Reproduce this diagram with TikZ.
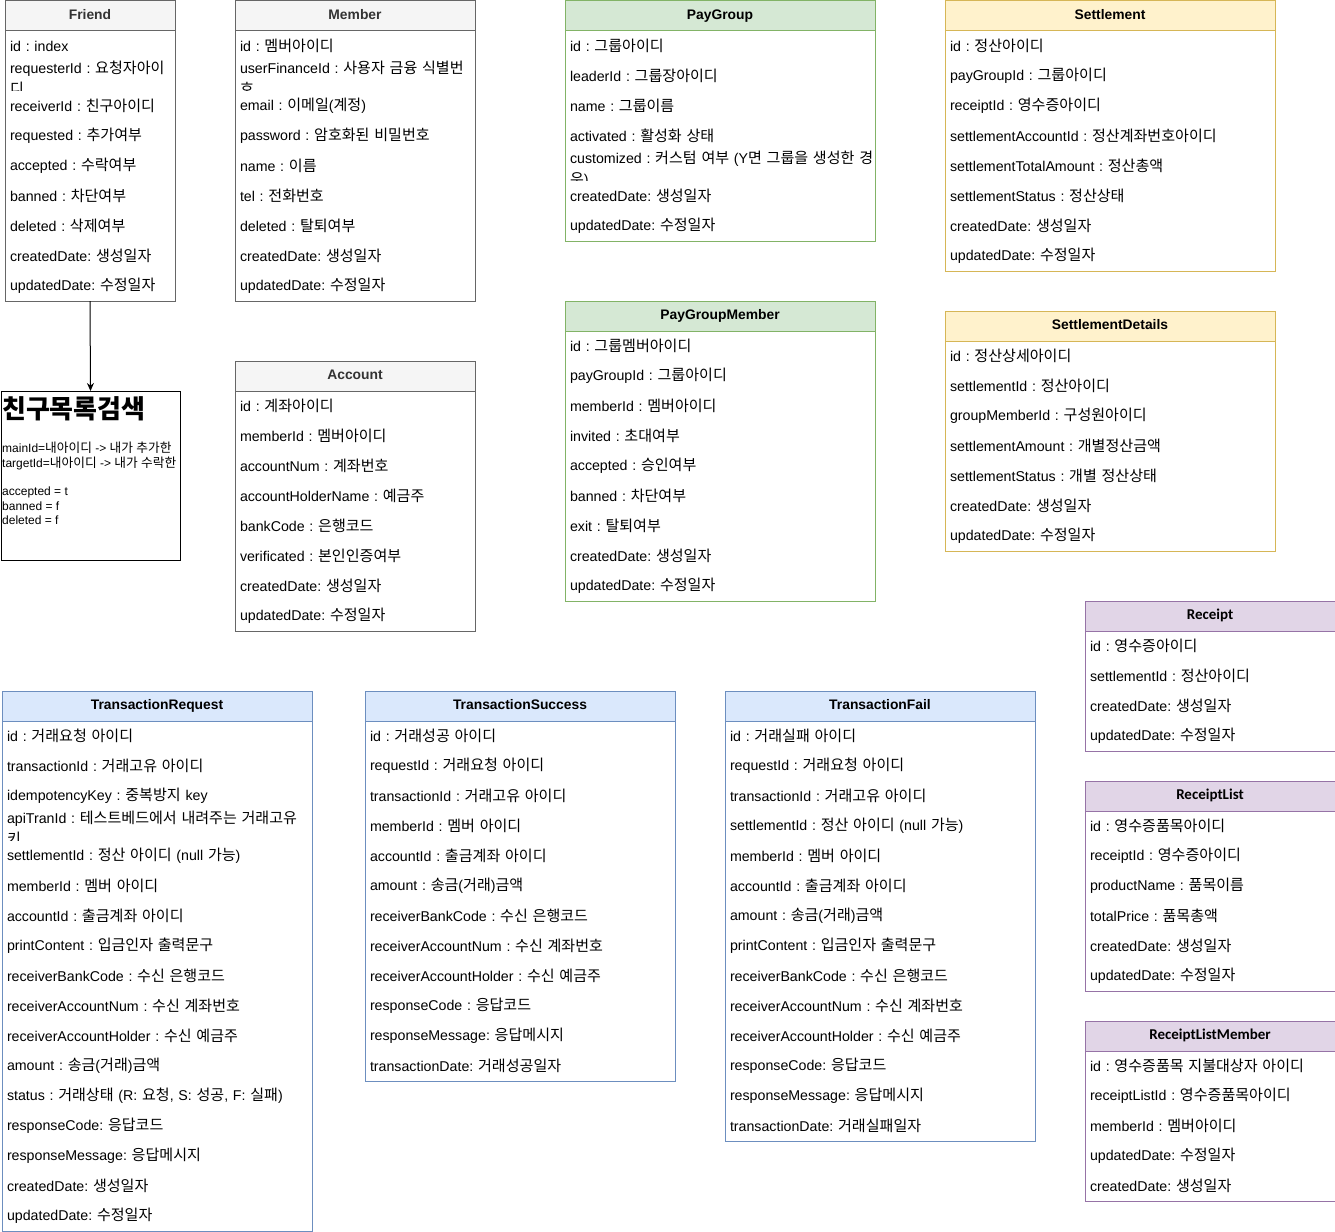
\documentclass[tikz,border=0pt]{standalone}
\usepackage{fontspec}
\setmainfont{Liberation Sans}
\newfontfamily\krfont{Noto Sans CJK KR}[Scale=1.06]
\newfontfamily\carlito{Carlito}
\usetikzlibrary{arrows.meta}
\frenchspacing
% automatic switch to a Korean font for Hangul syllables
\XeTeXinterchartokenstate=1
\newXeTeXintercharclass\krcls
\newcount\krc
\krc="AC00
\loop
  \XeTeXcharclass\krc=\krcls
\ifnum\krc<"D7A3 \advance\krc by 1 \repeat
\XeTeXinterchartoks 0 \krcls={\begingroup\krfont}
\XeTeXinterchartoks 4095 \krcls={\begingroup\krfont}
\XeTeXinterchartoks \krcls 0={\endgroup}
\XeTeXinterchartoks \krcls 4095={\endgroup}

\definecolor{grayfill}{HTML}{F5F5F5}\definecolor{grayline}{HTML}{666666}\definecolor{grayfont}{HTML}{333333}
\definecolor{greenfill}{HTML}{D5E8D4}\definecolor{greenline}{HTML}{82B366}\colorlet{greenfont}{black}
\definecolor{yellowfill}{HTML}{FFF2CC}\definecolor{yellowline}{HTML}{D6B656}\colorlet{yellowfont}{black}
\definecolor{bluefill}{HTML}{DAE8FC}\definecolor{blueline}{HTML}{6C8EBF}\colorlet{bluefont}{black}
\definecolor{purplefill}{HTML}{E1D5E7}\definecolor{purpleline}{HTML}{9673A6}\colorlet{purplefont}{black}

\newcommand\hdrgray{\fontsize{13.85}{16}\selectfont\bfseries}
\newcommand\hdrgreen{\fontsize{13.85}{16}\selectfont\bfseries}
\newcommand\hdryellow{\fontsize{13.85}{16}\selectfont\bfseries}
\newcommand\hdrblue{\fontsize{13.85}{16}\selectfont\bfseries}
\newcommand\hdrpurple{\carlito\fontsize{15}{17}\selectfont\bfseries}
% a row whose text wraps; the second line is mostly hidden by the next row
\newcommand\wrapped[2]{\mbox{#1}\\[5pt]#2}

\tikzset{
  hdr/.style={rectangle, minimum height=30, inner sep=0, outer sep=0, line width=1pt, anchor=north west,
     text height=10, text depth=3},
  rowcell/.style={rectangle, minimum height=30, inner xsep=5, inner ysep=0, outer sep=0, fill=white,
     align=left, anchor=north west, font=\fontsize{14.2}{16}\selectfont},
  frame/.style={line width=1pt},
  notebox/.style={rectangle, draw=black, line width=1pt, inner sep=0, outer sep=0, anchor=north west},
  conn/.style={line width=1pt, -{Stealth[length=8pt,width=7pt]}}
}

% #1 name, #2 x, #3 y, #4 width, #5 theme, #6 title, #7 rows
\newcommand\mktable[7]{%
  \pgfmathsetmacro\tw{#4-10}%
  \foreach \t [count=\i] in {#7} {%
    \node[rowcell, text width=\tw pt] (#1-\i) at (#2,{#3+30*\i}) {\t};
    \xdef\nrows{\i}%
  }
  \node[hdr, fill=#5fill, draw=#5line, text=#5font, minimum width=#4] (#1) at (#2,#3) {\csname hdr#5\endcsname #6};
  \draw[frame, #5line] (#1.north west) rectangle (#1-\nrows.south east);
}

\begin{document}
\begin{tikzpicture}[x=1pt, y=-1pt]
\useasboundingbox (0,0) rectangle (1335,1231);

\mktable{friend}{5}{1}{170}{gray}{Friend}{
 {id : index},
 {\wrapped{requesterId : 요청자아이}{디}},
 {receiverId : 친구아이디},
 {requested : 추가여부},
 {accepted : 수락여부},
 {banned : 차단여부},
 {deleted : 삭제여부},
 {createdDate: 생성일자},
 {updatedDate: 수정일자}}

\mktable{member}{235}{1}{240}{gray}{Member}{
 {id : 멤버아이디},
 {\wrapped{userFinanceId : 사용자 금융 식별번}{호}},
 {email : 이메일(계정)},
 {password : 암호화된 비밀번호},
 {name : 이름},
 {tel : 전화번호},
 {deleted : 탈퇴여부},
 {createdDate: 생성일자},
 {updatedDate: 수정일자}}

\mktable{account}{235}{361}{240}{gray}{Account}{
 {id : 계좌아이디},
 {memberId : 멤버아이디},
 {accountNum : 계좌번호},
 {accountHolderName : 예금주},
 {bankCode : 은행코드},
 {verificated : 본인인증여부},
 {createdDate: 생성일자},
 {updatedDate: 수정일자}}

\mktable{paygroup}{565}{1}{310}{green}{PayGroup}{
 {id : 그룹아이디},
 {leaderId : 그룹장아이디},
 {name : 그룹이름},
 {activated : 활성화 상태},
 {\wrapped{customized : 커스텀 여부 (Y면 그룹을 생성한 경}{우)}},
 {createdDate: 생성일자},
 {updatedDate: 수정일자}}

\mktable{paygroupmember}{565}{301}{310}{green}{PayGroupMember}{
 {id : 그룹멤버아이디},
 {payGroupId : 그룹아이디},
 {memberId : 멤버아이디},
 {invited : 초대여부},
 {accepted : 승인여부},
 {banned : 차단여부},
 {exit : 탈퇴여부},
 {createdDate: 생성일자},
 {updatedDate: 수정일자}}

\mktable{settlement}{945}{1}{330}{yellow}{Settlement}{
 {id : 정산아이디},
 {payGroupId : 그룹아이디},
 {receiptId : 영수증아이디},
 {settlementAccountId : 정산계좌번호아이디},
 {settlementTotalAmount : 정산총액},
 {settlementStatus : 정산상태},
 {createdDate: 생성일자},
 {updatedDate: 수정일자}}

\mktable{settlementdetails}{945}{311}{330}{yellow}{SettlementDetails}{
 {id : 정산상세아이디},
 {settlementId : 정산아이디},
 {groupMemberId : 구성원아이디},
 {settlementAmount : 개별정산금액},
 {settlementStatus : 개별 정산상태},
 {createdDate: 생성일자},
 {updatedDate: 수정일자}}

\mktable{receipt}{1085}{601}{250}{purple}{Receipt}{
 {id : 영수증아이디},
 {settlementId : 정산아이디},
 {createdDate: 생성일자},
 {updatedDate: 수정일자}}

\mktable{receiptlist}{1085}{781}{250}{purple}{ReceiptList}{
 {id : 영수증품목아이디},
 {receiptId : 영수증아이디},
 {productName : 품목이름},
 {totalPrice : 품목총액},
 {createdDate: 생성일자},
 {updatedDate: 수정일자}}

\mktable{receiptlistmember}{1085}{1021}{250}{purple}{ReceiptListMember}{
 {\mbox{id : 영수증품목 지불대상자 아이디}},
 {receiptListId : 영수증품목아이디},
 {memberId : 멤버아이디},
 {updatedDate: 수정일자},
 {createdDate: 생성일자}}

\mktable{txrequest}{2}{691}{310}{blue}{TransactionRequest}{
 {id : 거래요청 아이디},
 {transactionId : 거래고유 아이디},
 {idempotencyKey : 중복방지 key},
 {\wrapped{apiTranId : 테스트베드에서 내려주는 거래고유}{키}},
 {settlementId : 정산 아이디 (null 가능)},
 {memberId : 멤버 아이디},
 {accountId : 출금계좌 아이디},
 {printContent : 입금인자 출력문구},
 {receiverBankCode : 수신 은행코드},
 {receiverAccountNum : 수신 계좌번호},
 {receiverAccountHolder : 수신 예금주},
 {amount : 송금(거래)금액},
 {\mbox{status : 거래상태 (R: 요청, S: 성공, F: 실패)}},
 {responseCode: 응답코드},
 {responseMessage: 응답메시지},
 {createdDate: 생성일자},
 {updatedDate: 수정일자}}

\mktable{txsuccess}{365}{691}{310}{blue}{TransactionSuccess}{
 {id : 거래성공 아이디},
 {requestId : 거래요청 아이디},
 {transactionId : 거래고유 아이디},
 {memberId : 멤버 아이디},
 {accountId : 출금계좌 아이디},
 {amount : 송금(거래)금액},
 {receiverBankCode : 수신 은행코드},
 {receiverAccountNum : 수신 계좌번호},
 {receiverAccountHolder : 수신 예금주},
 {responseCode : 응답코드},
 {responseMessage: 응답메시지},
 {transactionDate: 거래성공일자}}

\mktable{txfail}{725}{691}{310}{blue}{TransactionFail}{
 {id : 거래실패 아이디},
 {requestId : 거래요청 아이디},
 {transactionId : 거래고유 아이디},
 {settlementId : 정산 아이디 (null 가능)},
 {memberId : 멤버 아이디},
 {accountId : 출금계좌 아이디},
 {amount : 송금(거래)금액},
 {printContent : 입금인자 출력문구},
 {receiverBankCode : 수신 은행코드},
 {receiverAccountNum : 수신 계좌번호},
 {receiverAccountHolder : 수신 예금주},
 {responseCode: 응답코드},
 {responseMessage: 응답메시지},
 {transactionDate: 거래실패일자}}

% note box
\node[notebox, minimum width=179, minimum height=169] (note) at (1,391) {};
\node[anchor=base west, inner sep=0, font=\fontsize{24.5}{28}\selectfont\bfseries] (notetitle) at (2,418) {친구목록검색};
\node[anchor=north west, inner sep=0, align=left, font=\fontsize{12}{14.4}\selectfont] (notebody) at (2,442)
 {mainId=내아이디 -> 내가 추가한\\targetId=내아이디 -> 내가 수락한\\ \mbox{}\\accepted = t\\banned = f\\deleted = f};

\draw[conn] (friend-9.south) -- (note.north);
\end{tikzpicture}
\end{document}
